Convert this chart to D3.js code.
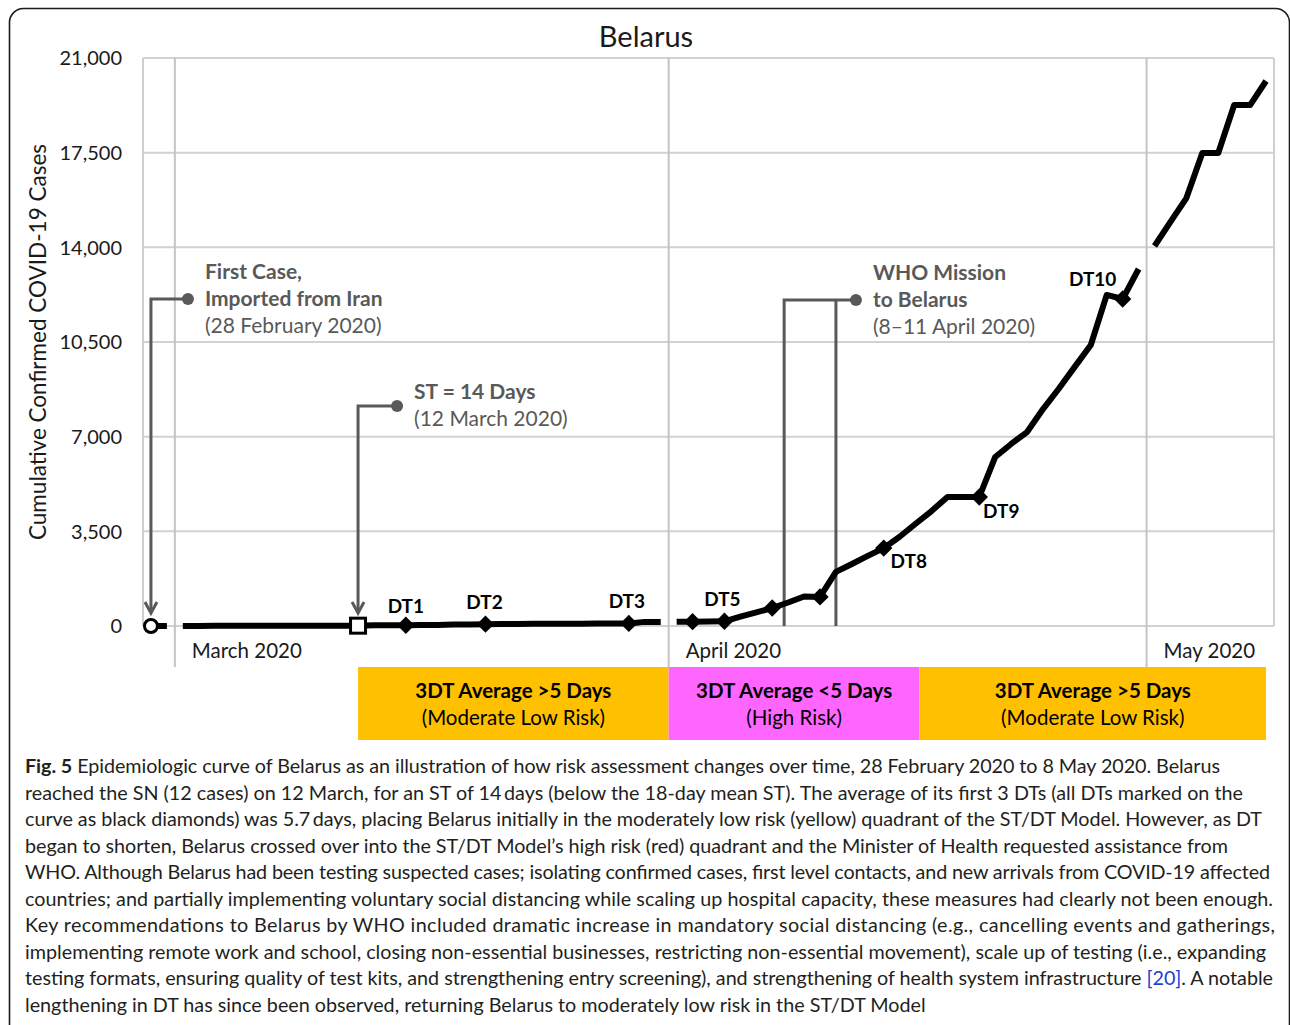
<!DOCTYPE html>
<html>
<head>
<meta charset="utf-8">
<script src="https://cdn.jsdelivr.net/npm/d3@7"></script>
<style>
  html, body { margin: 0; padding: 0; background: #fff; }
  svg { display: block; }
  text { font-family: Lato, "Open Sans", sans-serif; }
</style>
</head>
<body>
<svg id="chart" width="1290" height="1025"></svg>
<script>
// ---- Data: cumulative confirmed COVID-19 cases, Belarus ----
const febStart = "2020-02-28";
const febCases = [1, 1];

const marchStart = "2020-03-01";
const marchCases = [1, 1, 6, 6, 6, 6, 6, 6, 6, 9, 9, 12, 27, 27, 27, 36, 36, 51, 51, 69,
                    76, 76, 81, 81, 86, 86, 94, 94, 94, 152, 152];

const aprilStart = "2020-04-01";
const aprilCases = [155, 160, 165, 175, 345, 505, 665, 870, 1090, 1075,
                    2000, 2290, 2590, 2880, 3300, 3780, 4250, 4770, 4770, 4770,
                    6250, 6730, 7170, 8020, 8780, 9590, 10390, 12240, 12090, 13200];

const mayStart = "2020-05-01";
const mayCases = [14050, 14940, 15820, 17490, 17490, 19260, 19260, 20150];

// Doubling-time milestones (diamonds)
const dtDates  = ["2020-03-15", "2020-03-20", "2020-03-29", "2020-04-02", "2020-04-04",
                  "2020-04-07", "2020-04-10", "2020-04-14", "2020-04-20", "2020-04-29"];
const dtLabels = ["DT1", "DT2", "DT3", "", "DT5", "", "", "DT8", "DT9", "DT10"];

const firstCaseDate = "2020-02-28";
const stDate = "2020-03-12";
const whoMission = ["2020-04-08", "2020-04-11"];

const yTicks = [0, 3500, 7000, 10500, 14000, 17500, 21000];
const monthStarts = ["2020-03-01", "2020-04-01", "2020-05-01"];
const monthLabels = ["March 2020", "April 2020", "May 2020"];

const riskBands = [
  { from: "2020-03-12T12:00", to: "2020-04-01T00:00", title: "3DT Average >5 Days", sub: "(Moderate Low Risk)", color: "#FFC000" },
  { from: "2020-04-01T00:00", to: "2020-04-16T18:00", title: "3DT Average <5 Days", sub: "(High Risk)", color: "#FF66FF" },
  { from: "2020-04-16T18:00", to: "2020-05-08T12:00", title: "3DT Average >5 Days", sub: "(Moderate Low Risk)", color: "#FFC000" }
];

const captionLines = [
  [["Fig. 5", true], [" Epidemiologic curve of Belarus as an illustration of how risk assessment changes over time, 28 February 2020 to 8 May 2020. Belarus", false]],
  [["reached the SN (12 cases) on 12 March, for an ST of 14\u2009days (below the 18-day mean ST). The average of its first 3 DTs (all DTs marked on the", false]],
  [["curve as black diamonds) was 5.7\u2009days, placing Belarus initially in the moderately low risk (yellow) quadrant of the ST/DT Model. However, as DT", false]],
  [["began to shorten, Belarus crossed over into the ST/DT Model\u2019s high risk (red) quadrant and the Minister of Health requested assistance from", false]],
  [["WHO. Although Belarus had been testing suspected cases; isolating confirmed cases, first level contacts, and new arrivals from COVID-19 affected", false]],
  [["countries; and partially implementing voluntary social distancing while scaling up hospital capacity, these measures had clearly not been enough.", false]],
  [["Key recommendations to Belarus by WHO included dramatic increase in mandatory social distancing (e.g., cancelling events and gatherings,", false]],
  [["implementing remote work and school, closing non-essential businesses, restricting non-essential movement), scale up of testing (i.e., expanding", false]],
  [["testing formats, ensuring quality of test kits, and strengthening entry screening), and strengthening of health system infrastructure ", false], ["[20]", "link"], [". A notable", false]],
  [["lengthening in DT has since been observed, returning Belarus to moderately low risk in the ST/DT Model", false]]
];
const captionLineEnds = [1220, 1243, 1262, 1228, 1270, 1273, 1275, 1266, 1273, 926];

// ---- Helpers ----
const DAY = 864e5;
const parse = s => new Date(s.length > 10 ? s + "Z" : s + "T00:00:00Z");
const seriesFrom = (start, values) => values.map((v, i) => ({ date: new Date(parse(start).getTime() + i * DAY), value: v }));

const febSeries = seriesFrom(febStart, febCases);
const marchSeries = seriesFrom(marchStart, marchCases);
const aprilSeries = seriesFrom(aprilStart, aprilCases);
const maySeries = seriesFrom(mayStart, mayCases);
const allPoints = [...febSeries, ...marchSeries, ...aprilSeries, ...maySeries];
const valueOn = s => allPoints.find(p => p.date.getTime() === parse(s).getTime()).value;

// ---- Layout ----
const svg = d3.select("#chart");
const plot = { left: 143, right: 1274, top: 58, bottom: 626 };

const x = d3.scaleUtc()
  .domain([parse("2020-02-28"), parse("2020-05-09")])
  .range([plot.left, plot.right]);
const dayW = x(parse("2020-03-02")) - x(parse("2020-03-01"));
const xc = d => x(d) + dayW / 2;           // centre of a day slot

const y = d3.scaleLinear().domain([0, 21000]).range([plot.bottom, plot.top]);

// Outer frame
svg.append("rect")
  .attr("x", 9.5).attr("y", 8.5).attr("width", 1280).attr("height", 1040)
  .attr("rx", 14).attr("fill", "none").attr("stroke", "#1a1a1a").attr("stroke-width", 1.6);

// Title
svg.append("text")
  .attr("x", 646).attr("y", 47).attr("text-anchor", "middle")
  .attr("font-size", 29).attr("fill", "#1a1a1a").text("Belarus");

// Horizontal gridlines
svg.append("g").selectAll("line").data(yTicks).join("line")
  .attr("x1", plot.left).attr("x2", plot.right)
  .attr("y1", d => y(d)).attr("y2", d => y(d))
  .attr("stroke", "#d2d2d2").attr("stroke-width", 2);

// Plot area sides
svg.append("line").attr("x1", plot.left).attr("x2", plot.left).attr("y1", plot.top).attr("y2", plot.bottom)
  .attr("stroke", "#cfcfcf").attr("stroke-width", 2);
svg.append("line").attr("x1", plot.right).attr("x2", plot.right).attr("y1", plot.top).attr("y2", plot.bottom)
  .attr("stroke", "#cfcfcf").attr("stroke-width", 2);

// Month dividers and labels
svg.append("g").selectAll("line").data(monthStarts).join("line")
  .attr("x1", d => x(parse(d))).attr("x2", d => x(parse(d)))
  .attr("y1", plot.top).attr("y2", 667)
  .attr("stroke", "#c4c4c4").attr("stroke-width", 2);
svg.append("g").selectAll("text").data(monthStarts).join("text")
  .attr("x", d => x(parse(d)) + 17).attr("y", 658)
  .attr("font-size", 20.5).attr("fill", "#1a1a1a")
  .text((d, i) => monthLabels[i]);

// Y axis
const yAxis = d3.axisLeft(y).tickValues(yTicks).tickFormat(d3.format(",")).tickSize(0).tickPadding(21);
const gy = svg.append("g").attr("transform", `translate(${plot.left},0)`).call(yAxis);
gy.select(".domain").remove();
gy.selectAll("text").attr("font-size", 20).attr("fill", "#1a1a1a")
  .attr("font-family", "Lato, 'Open Sans', sans-serif").attr("dy", "0.34em");

svg.append("text")
  .attr("transform", `translate(46,342) rotate(-90)`)
  .attr("text-anchor", "middle").attr("font-size", 22.5).attr("fill", "#1a1a1a")
  .text("Cumulative Confirmed COVID-19 Cases");

// Annotation connectors
const annoColor = "#595959";
const ann = svg.append("g").attr("fill", "none").attr("stroke", annoColor).attr("stroke-width", 3);
const arrowDown = (g, xx, tipY) => {
  g.append("path").attr("d", `M${xx - 6},${tipY - 11} L${xx},${tipY} L${xx + 6},${tipY - 11}`)
    .attr("stroke-linejoin", "miter").attr("stroke-width", 3);
};

const fcX = xc(parse(firstCaseDate));
ann.append("path").attr("d", `M${fcX + 37},299 H${fcX} V612`);
arrowDown(ann, fcX, 613);

const stX = xc(parse(stDate));
ann.append("path").attr("d", `M${stX + 39},406 H${stX} V612`);
arrowDown(ann, stX, 613);

const whoX1 = xc(parse(whoMission[0])) - 4;
const whoX2 = xc(parse(whoMission[1]));
ann.append("path").attr("d", `M${whoX2 + 20},300 H${whoX1} V${plot.bottom}`);
ann.append("path").attr("d", `M${whoX2},300 V${plot.bottom}`);

svg.append("g").attr("fill", annoColor).selectAll("circle")
  .data([[fcX + 37, 299], [stX + 39, 406], [whoX2 + 20, 300]]).join("circle")
  .attr("cx", d => d[0]).attr("cy", d => d[1]).attr("r", 6);

// Annotation texts
const annoText = (x0, y0, lines) => {
  const t = svg.append("text").attr("font-size", 21).attr("fill", annoColor);
  lines.forEach(([s, bold], i) => {
    t.append("tspan").attr("x", x0).attr("y", y0 + i * 27)
      .attr("font-weight", bold ? 700 : 400).text(s);
  });
};
annoText(fcX + 54, 279, [["First Case,", true], ["Imported from Iran", true], ["(28 February 2020)", false]]);
annoText(stX + 56, 399, [["ST = 14 Days", true], ["(12 March 2020)", false]]);
annoText(whoX2 + 37, 280, [["WHO Mission", true], ["to Belarus", true], ["(8\u201311 April 2020)", false]]);

// Case curve, one segment per month
const line = d3.line().x(d => xc(d.date)).y(d => y(d.value)).curve(d3.curveLinear);
svg.append("g").selectAll("path").data([febSeries, marchSeries, aprilSeries, maySeries]).join("path")
  .attr("d", line).attr("fill", "none").attr("stroke", "#000")
  .attr("stroke-width", 6).attr("stroke-linejoin", "round");

// First case marker
svg.append("circle")
  .attr("cx", xc(parse(firstCaseDate))).attr("cy", y(valueOn(firstCaseDate)))
  .attr("r", 6.5).attr("fill", "#fff").attr("stroke", "#000").attr("stroke-width", 3);

// ST marker
svg.append("rect")
  .attr("x", xc(parse(stDate)) - 7.5).attr("y", y(valueOn(stDate)) - 7.5)
  .attr("width", 15).attr("height", 15)
  .attr("fill", "#fff").attr("stroke", "#000").attr("stroke-width", 3);

// DT diamonds
const diamond = d3.symbol().type(d3.symbolSquare).size(150);
const dts = dtDates.map((d, i) => ({ date: parse(d), value: valueOn(d), label: dtLabels[i] }));
svg.append("g").selectAll("path").data(dts).join("path")
  .attr("d", diamond)
  .attr("transform", d => `translate(${xc(d.date)},${y(d.value)}) rotate(45)`)
  .attr("fill", "#000");

const dtLabelOffset = { DT1: [0, -12], DT2: [-1, -15], DT3: [-2, -15], DT5: [-2, -15], DT8: [25, 20], DT9: [22, 21], DT10: [-30, -13] };
svg.append("g").selectAll("text").data(dts.filter(d => d.label)).join("text")
  .attr("x", d => xc(d.date) + dtLabelOffset[d.label][0])
  .attr("y", d => y(d.value) + dtLabelOffset[d.label][1])
  .attr("text-anchor", "middle").attr("font-size", 19).attr("font-weight", 700).attr("fill", "#000")
  .text(d => d.label);

// Risk bands beneath the axis
const bands = svg.append("g").selectAll("g").data(riskBands).join("g");
bands.append("rect")
  .attr("x", d => x(parse(d.from))).attr("y", 667)
  .attr("width", d => x(parse(d.to)) - x(parse(d.from))).attr("height", 73)
  .attr("fill", d => d.color);
bands.append("text")
  .attr("x", d => (x(parse(d.from)) + x(parse(d.to))) / 2).attr("y", 698)
  .attr("text-anchor", "middle").attr("font-size", 20.5).attr("font-weight", 700).attr("fill", "#000")
  .text(d => d.title);
bands.append("text")
  .attr("x", d => (x(parse(d.from)) + x(parse(d.to))) / 2).attr("y", 725)
  .attr("text-anchor", "middle").attr("font-size", 20.5).attr("fill", "#000")
  .text(d => d.sub);

// Figure caption
const cap = svg.append("g").attr("fill", "#231f20");
const capTexts = captionLines.map((parts, i) => {
  const t = cap.append("text").attr("x", 25).attr("y", 773 + i * 26.5).attr("font-size", 19);
  parts.forEach(([s, kind]) => {
    const ts = t.append("tspan").text(s);
    if (kind === true) ts.attr("font-weight", 700);
    if (kind === "link") ts.attr("fill", "#1a3fd6");
  });
  return t;
});
// size the caption so the last (unjustified) line spans its measured width, then justify the rest
const lastIdx = captionLines.length - 1;
const natural = capTexts[lastIdx].node().getComputedTextLength();
const capSize = 19 * (captionLineEnds[lastIdx] - 25) / natural;
capTexts.forEach((t, i) => {
  t.attr("font-size", capSize);
  if (i < lastIdx) t.attr("textLength", captionLineEnds[i] - 25).attr("lengthAdjust", "spacing");
});
</script>
</body>
</html>
